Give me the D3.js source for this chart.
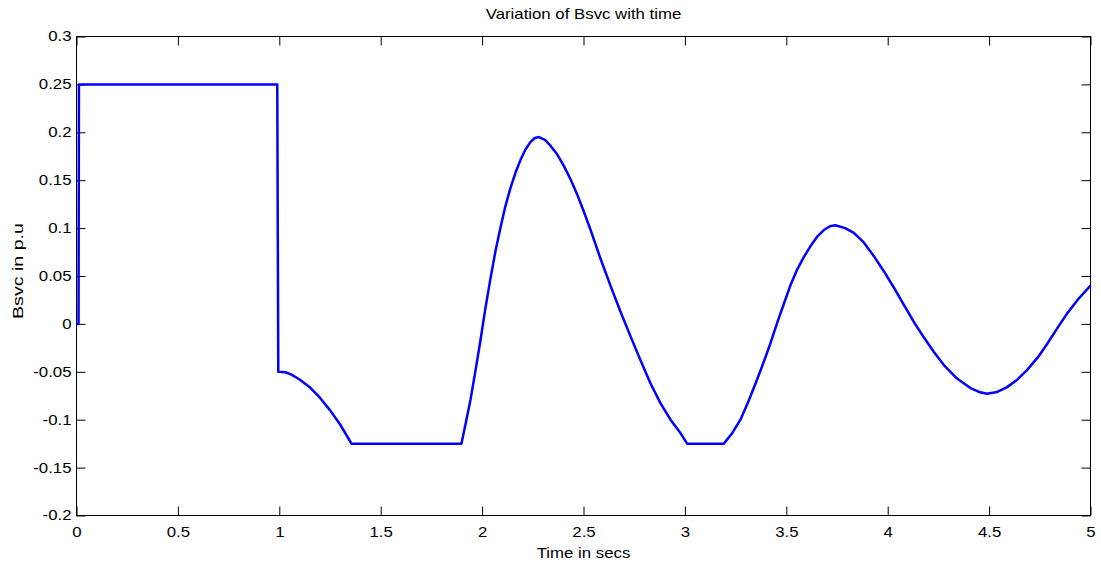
<!DOCTYPE html>
<html>
<head>
<meta charset="utf-8">
<script src="https://cdn.jsdelivr.net/npm/d3@7"></script>
<style>
html,body{margin:0;padding:0;background:#fff;}
svg{display:block;font-family:"Liberation Sans",Arial,Helvetica,sans-serif;}
</style>
</head>
<body>
<svg id="chart" width="1101" height="566"></svg>
<script>
const title = "Variation of Bsvc with time";
const xLabel = "Time in secs";
const yLabel = "Bsvc in p.u";
const xTicks = [0, 0.5, 1, 1.5, 2, 2.5, 3, 3.5, 4, 4.5, 5];
const yTicks = [-0.2, -0.15, -0.1, -0.05, 0, 0.05, 0.1, 0.15, 0.2, 0.25, 0.3];
const xDomain = [0, 5];
const yDomain = [-0.2, 0.3];

const time = [0, 0.01, 0.012, 0.99, 0.995, 1.03, 1.06, 1.1, 1.15, 1.2, 1.25, 1.3, 1.356,
  1.898, 1.92, 1.943, 1.968, 1.992, 2.016, 2.041, 2.066, 2.091, 2.115, 2.140, 2.165, 2.189,
  2.214, 2.239, 2.26, 2.28, 2.31, 2.337, 2.37, 2.403, 2.436, 2.469, 2.502, 2.535, 2.584,
  2.633, 2.682, 2.732, 2.781, 2.830, 2.880, 2.929, 2.978, 3.011,
  3.192, 3.23, 3.274, 3.315, 3.356, 3.39, 3.422, 3.455, 3.488, 3.52, 3.554, 3.587, 3.619,
  3.652, 3.685, 3.715, 3.742, 3.79, 3.833, 3.882, 3.931, 3.981, 4.030, 4.079, 4.129, 4.178,
  4.227, 4.277, 4.342, 4.408, 4.45, 4.49, 4.54, 4.589, 4.64, 4.688, 4.74, 4.786, 4.835,
  4.885, 4.94, 5.0];
const bsvc = [0, 0, 0.25, 0.25, -0.05, -0.0505, -0.053, -0.058, -0.066, -0.077, -0.090, -0.105, -0.125,
  -0.125, -0.103, -0.079, -0.048, -0.017, 0.016, 0.047, 0.076, 0.101, 0.123, 0.142, 0.158, 0.171,
  0.182, 0.190, 0.194, 0.195, 0.192, 0.186, 0.177, 0.165, 0.151, 0.135, 0.117, 0.098, 0.068,
  0.040, 0.013, -0.013, -0.038, -0.062, -0.083, -0.100, -0.114, -0.125,
  -0.125, -0.115, -0.100, -0.080, -0.058, -0.039, -0.020, 0.001, 0.021, 0.040, 0.057, 0.070, 0.081,
  0.091, 0.098, 0.102, 0.103, 0.100, 0.095, 0.085, 0.071, 0.055, 0.038, 0.020, 0.002, -0.014,
  -0.029, -0.043, -0.057, -0.067, -0.071, -0.073, -0.071, -0.066, -0.058, -0.048, -0.035, -0.021, -0.005,
  0.011, 0.026, 0.040];

const svg = d3.select("#chart");
const m = {left: 76.5, top: 36.5, right: 1090.5, bottom: 515.5};
const x = d3.scaleLinear().domain(xDomain).range([m.left, m.right]);
const y = d3.scaleLinear().domain(yDomain).range([m.bottom, m.top]);
const tickLen = 9;
const stretch = 1.2; // text in the reference is widened horizontally

// box
svg.append("rect").attr("x", m.left).attr("y", m.top)
  .attr("width", m.right - m.left).attr("height", m.bottom - m.top)
  .attr("fill", "#fff").attr("stroke", "#000").attr("stroke-width", 1);

// axes
const fmt = d => String(+d.toFixed(2));
const gB = svg.append("g").attr("transform", `translate(0,${m.bottom})`)
  .call(d3.axisBottom(x).tickValues(xTicks).tickFormat(fmt).tickSizeInner(-tickLen).tickSizeOuter(0).tickPadding(12));
const gT = svg.append("g").attr("transform", `translate(0,${m.top})`)
  .call(d3.axisTop(x).tickValues(xTicks).tickFormat("").tickSizeInner(-tickLen).tickSizeOuter(0));
const gL = svg.append("g").attr("transform", `translate(${m.left},0)`)
  .call(d3.axisLeft(y).tickValues(yTicks).tickFormat(fmt).tickSizeInner(-tickLen).tickSizeOuter(0).tickPadding(5));
const gR = svg.append("g").attr("transform", `translate(${m.right},0)`)
  .call(d3.axisRight(y).tickValues(yTicks).tickFormat("").tickSizeInner(-tickLen).tickSizeOuter(0));
[gB, gT, gL, gR].forEach(g => {
  g.select(".domain").remove();
  g.selectAll("line").attr("stroke", "#000");
  g.selectAll("text").attr("font-size", 14).attr("fill", "#000")
    .attr("font-family", "Liberation Sans, Arial, sans-serif");
});
gL.selectAll(".tick text").each(function() {
  const t = d3.select(this);
  const x0 = +t.attr("x");
  t.attr("x", 0).attr("transform", `translate(${x0},0) scale(${stretch},1)`);
});
gB.selectAll(".tick text").attr("transform", `scale(${stretch},1)`);

// line
const pts = time.map((t, i) => [t, bsvc[i]]);
svg.append("path").datum(pts)
  .attr("fill", "none").attr("stroke", "#0000ff").attr("stroke-width", 2.5)
  .attr("stroke-linejoin", "round")
  .attr("d", d3.line().x(d => x(d[0])).y(d => y(d[1])).curve(d3.curveLinear));

// titles
const cx = (m.left + m.right) / 2;
svg.append("text").attr("transform", `translate(${cx},19) scale(${stretch},1)`)
  .attr("text-anchor", "middle").attr("font-size", 14).text(title);
svg.append("text").attr("transform", `translate(${cx},558) scale(${stretch},1)`)
  .attr("text-anchor", "middle").attr("font-size", 14).text(xLabel);
svg.append("text").attr("transform", `translate(23,271) rotate(-90)`)
  .attr("text-anchor", "middle").attr("font-size", 15)
  .attr("textLength", 96).attr("lengthAdjust", "spacingAndGlyphs").text(yLabel);
</script>
</body>
</html>
